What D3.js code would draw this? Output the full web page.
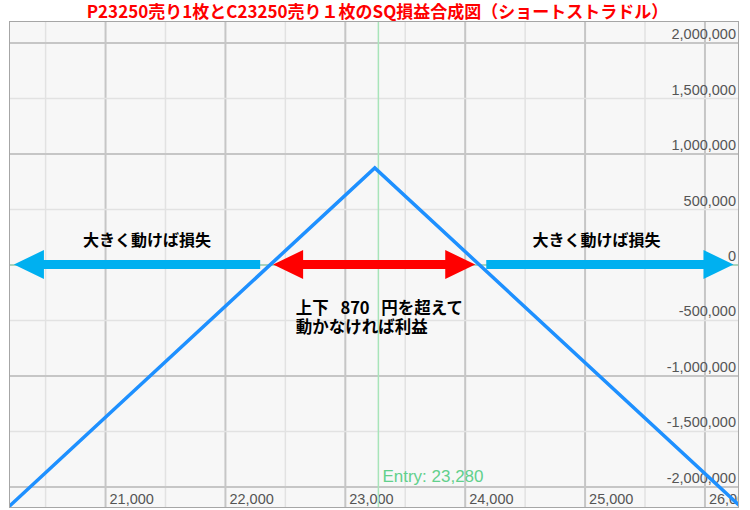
<!DOCTYPE html>
<html><head><meta charset="utf-8">
<script src="https://cdn.jsdelivr.net/npm/d3@7"></script>
<style>
html,body{margin:0;padding:0;background:#fff;}
svg{display:block;}
</style></head>
<body>
<svg id="chart" width="750" height="510"></svg>
<script>
// ---- data ----
const titleText = "P23250売り1枚とC23250売り１枚のSQ損益合成図（ショートストラドル）";
const prices = [20000, 23250, 26500];            // underlying price at SQ
const pnl = [-2380000, 870000, -2380000];         // combined P&L (yen)
const entryPrice = 23280;
const xTicks = [20500,21000,21500,22000,22500,23000,23500,24000,24500,25000,25500,26000];
const yTicks = [-2000000,-1500000,-1000000,-500000,0,500000,1000000,1500000,2000000];
const arrowColors = ["#00B0F0", "#FF0000", "#00B0F0"];
const arrowFrom = [22294, 22402, 24180];
const arrowTo = [20240, 24088, 26242];
const arrowDouble = [false, true, false];
const lossLabel = "大きく動けば損失";
const lossLabelPrices = [21350, 25100];
const profitLines = ["上下 870 円を超えて", "動かなければ利益"];
const profitLabelPrice = 22590;

// ---- layout ----
const L = 9.5, R = 738.5, T = 21.5, B = 507.5;
const svg = d3.select("#chart");
const x = d3.scaleLinear().domain([20203, 26284]).range([L, R]);
const y = d3.scaleLinear().domain([2190000, -2190000]).range([T, B]);
const loc = d3.formatLocale({decimal: ".", thousands: ",", grouping: [3], currency: ["", ""], minus: "-"});
const fmt = loc.format(",");

svg.append("defs").append("clipPath").attr("id","plotclip")
  .append("rect").attr("x",L).attr("y",T).attr("width",R-L).attr("height",B-T);

svg.append("rect").attr("x",L).attr("y",T).attr("width",R-L).attr("height",B-T)
  .attr("fill","#f7f7f7");

const plot = svg.append("g").attr("clip-path","url(#plotclip)");

// x gridlines + labels
const xAxis = d3.axisTop(x).tickValues(xTicks).tickSize(B-T)
  .tickFormat(d => d % 1000 === 0 ? fmt(d) : "");
const gx = plot.append("g").attr("transform",`translate(0,${B})`).call(xAxis);
gx.select(".domain").remove();
gx.selectAll(".tick line")
  .attr("stroke", d => d % 1000 === 0 ? "#c6c6c6" : "#e2e2e2")
  .attr("stroke-width", d => d % 1000 === 0 ? 2 : 1.5);
gx.selectAll(".tick text")
  .attr("x",4).attr("y",-3.5).attr("dy",null)
  .attr("text-anchor","start")
  .attr("fill","#555").attr("font-family","'Liberation Sans', Arial, sans-serif")
  .attr("font-size",14.5);

// y gridlines + labels
const yAxis = d3.axisLeft(y).tickValues(yTicks).tickSize(R-L).tickFormat(fmt);
const gy = plot.append("g").attr("transform",`translate(${R},0)`).call(yAxis);
gy.select(".domain").remove();
gy.selectAll(".tick line")
  .attr("stroke", d => d === 0 ? "#8fc7a8" : (d % 1000000 === 0 ? "#c6c6c6" : "#e2e2e2"))
  .attr("stroke-width", d => d === 0 ? 1.5 : (d % 1000000 === 0 ? 2 : 1.5));
gy.selectAll(".tick text")
  .attr("x",-2.5).attr("y",-4).attr("dy",null)
  .attr("text-anchor","end")
  .attr("fill","#555").attr("font-family","'Liberation Sans', Arial, sans-serif")
  .attr("font-size",14.5);

// entry line
plot.append("line").attr("x1",x(entryPrice)).attr("x2",x(entryPrice))
  .attr("y1",T).attr("y2",B).attr("stroke","#a8e4b9").attr("stroke-width",1.5);
plot.append("text").attr("x",x(entryPrice)+4).attr("y",481.5)
  .attr("fill","#62d08c").attr("font-family","'Liberation Sans', Arial, sans-serif")
  .attr("font-size",17).text("Entry: " + fmt(entryPrice));

// payoff line
const pts = prices.map((p,i)=>[p,pnl[i]]);
plot.append("path").datum(pts)
  .attr("d", d3.line().x(d=>x(d[0])).y(d=>y(d[1])))
  .attr("fill","none").attr("stroke","#1E90FF").attr("stroke-width",3.5)
  .attr("stroke-linejoin","miter");

// border
svg.append("rect").attr("x",L).attr("y",T).attr("width",R-L).attr("height",B-T)
  .attr("fill","none").attr("stroke","#a6a6a6").attr("stroke-width",1);

// arrows
const headLen = 30, headHalf = 14.5, shaftHalf = 4.5;
const y0 = y(0);
function arrowPath(xa, xb, dbl){
  const dir = xb > xa ? 1 : -1;
  const p = d3.path();
  const tipB = xb, baseB = xb - dir*headLen;
  const tipA = xa, baseA = dbl ? xa + dir*headLen : xa;
  p.moveTo(baseA, y0-shaftHalf);
  p.lineTo(baseB, y0-shaftHalf);
  p.lineTo(baseB, y0-headHalf);
  p.lineTo(tipB, y0);
  p.lineTo(baseB, y0+headHalf);
  p.lineTo(baseB, y0+shaftHalf);
  p.lineTo(baseA, y0+shaftHalf);
  if (dbl){
    p.lineTo(baseA, y0+headHalf);
    p.lineTo(tipA, y0);
    p.lineTo(baseA, y0-headHalf);
  }
  p.closePath();
  return p.toString();
}
arrowFrom.forEach((f,i)=>{
  svg.append("path").attr("d", arrowPath(x(f), x(arrowTo[i]), arrowDouble[i]))
    .attr("fill", arrowColors[i]);
});

// labels
const jp = "'Noto Sans CJK JP', 'Noto Sans', sans-serif";
lossLabelPrices.forEach(p=>{
  svg.append("text").attr("x",x(p)).attr("y",246).attr("text-anchor","middle")
    .attr("font-family",jp).attr("font-weight","bold").attr("font-size",16)
    .attr("fill","#000").text(lossLabel);
});
const pt = svg.append("text")
  .attr("font-family",jp).attr("font-weight","bold").attr("font-size",16.5)
  .attr("fill","#000").style("white-space","pre").style("word-spacing","8px");
profitLines.forEach((t,i)=>{
  pt.append("tspan").attr("x",x(profitLabelPrice)).attr("y",314 + i*18.5).text(t);
});

// title
svg.append("text").attr("x",377.5).attr("y",18).attr("text-anchor","middle")
  .attr("font-family",jp).attr("font-weight","bold").attr("font-size",17)
  .attr("fill","#FF0000").text(titleText);
</script>
</body></html>
